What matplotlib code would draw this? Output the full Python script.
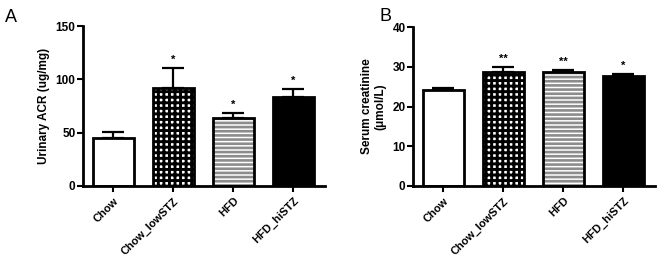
import matplotlib
matplotlib.use("Agg")
import matplotlib.pyplot as plt
import numpy as np

groups = ["Chow", "Chow_lowSTZ", "HFD", "HFD_hiSTZ"]

acr_mean = [45, 92, 64, 83]
acr_err = [6, 19, 4, 8]
acr_sig = ["", "*", "*", "*"]

crea_mean = [24.1, 28.8, 28.6, 27.8]
crea_err = [0.5, 1.2, 0.5, 0.5]
crea_sig = ["", "**", "**", "*"]

plt.rcParams["font.family"] = ["Liberation Sans", "DejaVu Sans"]
plt.rcParams["font.weight"] = "bold"

FACE = ["white", "white", "white", "black"]
HATCH = [None, "+++", "----", None]
HATCH_COLOR = ["black", "black", "#8c8c8c", "black"]
HATCH_LW = [1.0, 2.1, 1.9, 1.0]


def draw_panel(ax, means, errs, sigs, ymax, step, ylabel):
    x = np.arange(len(groups))
    w = 0.68
    for i in range(len(groups)):
        if HATCH[i]:
            with plt.rc_context({"hatch.linewidth": HATCH_LW[i]}):
                ax.bar(x[i], means[i], width=w, color="white", edgecolor=HATCH_COLOR[i],
                       hatch=HATCH[i], linewidth=0, zorder=2)
            ax.bar(x[i], means[i], width=w, fill=False, edgecolor="black",
                   linewidth=2.0, zorder=3)
        else:
            ax.bar(x[i], means[i], width=w, color=FACE[i], edgecolor="black",
                   linewidth=2.0, zorder=2)
    ax.errorbar(x, means, yerr=[np.zeros(len(errs)), errs], fmt="none",
                ecolor="black", elinewidth=1.6, capsize=8, capthick=1.6, zorder=1)
    for i, s in enumerate(sigs):
        if s:
            ax.text(x[i], means[i] + errs[i] + ymax * 0.02, s, ha="center",
                    va="bottom", fontsize=8)

    ax.set_xlim(-0.5, 3.52)
    ax.set_ylim(0, ymax)
    ax.set_yticks(np.arange(0, ymax + 1, step))
    ax.set_xticks(x)
    ax.set_xticklabels(groups, rotation=45, ha="right", rotation_mode="anchor")
    ax.tick_params(axis="both", direction="out", length=4, width=1.5, labelsize=8)
    ax.tick_params(axis="y", labelsize=8.5, pad=1.5)
    ax.tick_params(axis="x", pad=3)
    for side in ("top", "right"):
        ax.spines[side].set_visible(False)
    for side in ("left", "bottom"):
        ax.spines[side].set_linewidth(2)
    ax.set_ylabel(ylabel, fontsize=8.5, fontweight="bold", labelpad=4)
    return ax


fig = plt.figure(figsize=(6.6, 2.63), dpi=100)
ax1 = fig.add_axes([0.126, 0.293, 0.366, 0.608])
ax2 = fig.add_axes([0.626, 0.293, 0.366, 0.604])

draw_panel(ax1, acr_mean, acr_err, acr_sig, 150, 50, "Urinary ACR (ug/mg)")
draw_panel(ax2, crea_mean, crea_err, crea_sig, 40, 10, "Serum creatinine\n(μmol/L)")

fig.text(0.008, 0.915, "A", fontsize=13, fontweight="normal")
fig.text(0.575, 0.92, "B", fontsize=13, fontweight="normal")

fig.savefig("out.png", dpi=100)
